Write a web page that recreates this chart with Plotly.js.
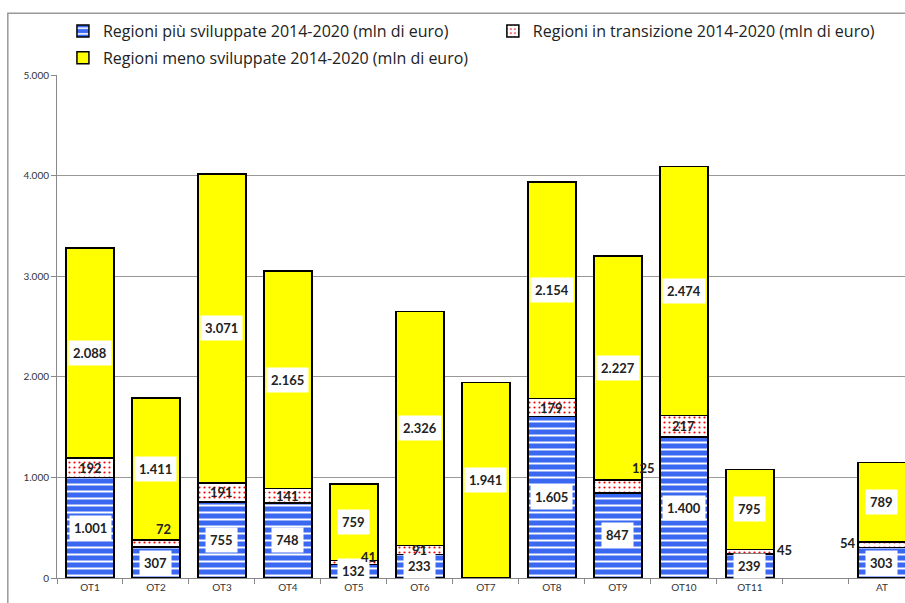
<!DOCTYPE html>
<html>
<head>
<meta charset="utf-8">
<script src="https://cdn.plot.ly/plotly-3.0.1.min.js"></script>
<style>html,body{margin:0;padding:0;background:#fff;overflow:hidden}#chart{width:905px;height:603px}</style>
</head>
<body>
<div id="chart"></div>
<script>
const categories = ["OT1","OT2","OT3","OT4","OT5","OT6","OT7","OT8","OT9","OT10","OT11"," ","AT"];
const piuSviluppate = [1001, 307, 755, 748, 132, 233, null, 1605, 847, 1400, 239, null, 303];
const inTransizione = [192, 72, 191, 141, 41, 91, null, 179, 125, 217, 45, null, 54];
const menoSviluppate = [2088, 1411, 3071, 2165, 759, 2326, 1941, 2154, 2227, 2474, 795, null, 789];
const seriesNames = [
  "Regioni più sviluppate 2014-2020 (mln di euro)",
  "Regioni in transizione 2014-2020 (mln di euro)",
  "Regioni meno sviluppate 2014-2020 (mln di euro)"
];
const yTickVals = [0, 1000, 2000, 3000, 4000, 5000];

function fmt(v){ return String(v).replace(/\B(?=(\d{3})+(?!\d))/g, "."); }

const FONT = "Lato, 'Open Sans', sans-serif";
const LFONT = "'Open Sans', sans-serif";
const line = {color: "#000", width: 1.5};

const traces = [
  {type:"bar", name: seriesNames[0], x: categories, y: piuSviluppate, legend:"legend",
   marker:{color:"#3a68f0", line: line, pattern:{shape:"-", fgcolor:"#ffffff", bgcolor:"#3a68f0", size:7, solidity:0.28, fillmode:"replace"}},
   hoverinfo:"y"},
  {type:"bar", name: seriesNames[1], x: categories, y: inTransizione, legend:"legend2",
   marker:{color:"#ffffff", line: line, pattern:{shape:".", fgcolor:"#ff0000", bgcolor:"#ffffff", size:5, solidity:0.15, fillmode:"replace"}},
   hoverinfo:"y"},
  {type:"bar", name: seriesNames[2], x: categories, y: menoSviluppate, legend:"legend3",
   marker:{color:"#ffff00", line: line},
   hoverinfo:"y"}
];

// small labels that are moved outside their segment: [xshift, yshift]
const smallShift = {"OT2":[8,14], "OT5":[15,6], "OT9":[26,19], "OT11":[35,2], "AT":[-34,2]};

const annotations = [];
const lblFont = {family:FONT, size:13, color:"#222"};
categories.forEach((c, i) => {
  const b = piuSviluppate[i] || 0, t = inTransizione[i] || 0, m = menoSviluppate[i] || 0;
  if (piuSviluppate[i]) annotations.push({x:c, y:b/2, text:"<b>"+fmt(b)+"</b>", showarrow:false, bgcolor:"#ffffff", borderpad:4, font:lblFont});
  if (inTransizione[i]) {
    const s = smallShift[c] || [0,0];
    annotations.push({x:c, y:b + t/2, text:"<b>"+fmt(t)+"</b>", showarrow:false, xshift:s[0], yshift:s[1], font:lblFont});
  }
  if (menoSviluppate[i]) annotations.push({x:c, y:b + t + m/2, text:"<b>"+fmt(m)+"</b>", showarrow:false, bgcolor:"#ffffff", borderpad:4, font:lblFont});
});

const legendBase = {orientation:"v", xanchor:"left", yanchor:"top", bgcolor:"rgba(0,0,0,0)",
                    font:{family:LFONT, size:16, color:"#222"}, itemwidth:30};

const layout = {
  width:905, height:603,
  margin:{l:57, r:0, t:75, b:25},
  barmode:"stack", bargap:0.27,
  separators:",.",
  paper_bgcolor:"#ffffff", plot_bgcolor:"#ffffff",
  font:{family:FONT, color:"#333"},
  showlegend:true,
  legend: Object.assign({}, legendBase, {x:0.007, y:1.121}),
  legend2: Object.assign({}, legendBase, {x:0.514, y:1.121}),
  legend3: Object.assign({}, legendBase, {x:0.007, y:1.068}),
  xaxis:{type:"category", range:[-0.5, 12.35], tickson:"boundaries", ticks:"outside", ticklen:5, tickcolor:"#888",
         showline:true, linecolor:"#888", linewidth:1, showgrid:false, tickfont:{family:FONT, size:10, color:"#333"}, fixedrange:true},
  yaxis:{range:[0, 5000], tickvals:yTickVals, tickformat:",d", ticks:"outside", ticklen:5, tickcolor:"#888",
         showline:true, linecolor:"#888", linewidth:1, showgrid:true, gridcolor:"#999", gridwidth:1, zeroline:false,
         tickfont:{family:FONT, size:10, color:"#333"}, fixedrange:true},
  annotations: annotations,
  shapes:[{type:"rect", xref:"paper", yref:"paper", x0:-0.058, x1:1.1, y0:-0.2, y1:1.123, line:{color:"#999", width:1.5}, layer:"above"}]
};

Plotly.newPlot("chart", traces, layout, {displayModeBar:false, staticPlot:true});
</script>
</body>
</html>
